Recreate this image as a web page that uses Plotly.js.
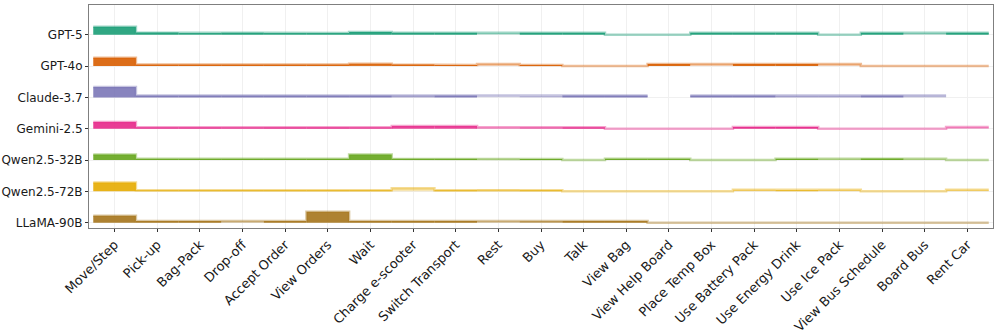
<!DOCTYPE html>
<html>
<head>
<meta charset="utf-8">
<script src="https://cdn.plot.ly/plotly-3.0.1.min.js"></script>
<style>
  html, body {margin: 0; padding: 0; background: #fff;}
  #chart {width: 997px; height: 336px;}
</style>
</head>
<body>
<div id="chart"></div>
<script>
let actions = ['Move/Step', 'Pick-up', 'Bag-Pack', 'Drop-off', 'Accept Order', 'View Orders', 'Wait',
    'Charge e-scooter', 'Switch Transport', 'Rest', 'Buy', 'Talk', 'View Bag', 'View Help Board',
    'Place Temp Box', 'Use Battery Pack', 'Use Energy Drink', 'Use Ice Pack', 'View Bus Schedule',
    'Board Bus', 'Rent Car'];

// top row first
let models = ['GPT-5', 'GPT-4o', 'Claude-3.7', 'Gemini-2.5', 'Qwen2.5-32B', 'Qwen2.5-72B', 'LLaMA-90B'];
let model_colors = ['#1b9e77', '#d95f02', '#7570b3', '#e7298a', '#66a61e', '#e6ab02', '#a6761d'];

// share of steps per action (%), null = action not available
let share_gpt5   = [20, 5.5, 4.5, 5, 4.5, 4.5, 7, 5, 5, 4.5, 5, 5, 0, 0, 5, 5, 5, 0, 5, 4.5, 5];
let share_gpt4o  = [21, 4, 4, 4, 4, 4, 6, 4, 2.5, 5, 2.5, 0, 0, 5, 5, 5, 5, 5, 0, 0, 0];
let share_claude = [26, 4.5, 4.5, 4.5, 4.5, 4.5, 4.5, 4.5, 4.5, 4, 3.5, 4.5, 4.5, null, 4.5, 4.5, 4, 4, 4.5, 4.5, null];
let share_gemini = [17, 3.5, 3.5, 3.5, 3.5, 3.5, 3.5, 7, 7, 3.5, 3.5, 3.5, 0, 0, 0, 4, 4, 0, 0, 0, 4];
let share_qwen32 = [14, 3, 3, 3, 3, 3, 14, 3, 3, 3.5, 2.5, 0, 3, 3, 0, 0, 3, 3, 4, 3, 0];
let share_qwen72 = [22, 3, 3, 3, 3, 3, 3, 8, 3, 4, 3, 0, 0, 0, 0, 4, 3, 4, 0, 0, 4];
let share_llama  = [17, 4, 4, 4, 4, 27, 4, 4, 4, 4, 4, 4, 4, 0, 0, 0, 0, 0, 0, 0, 0];

// success rate per action (drives the fill opacity)
let rate_gpt5   = [0.95, 0.95, 0.9, 0.95, 0.9, 0.9, 0.95, 0.95, 0.95, 0.2, 0.95, 0.95, 0, 0, 0.95, 0.95, 0.95, 0, 0.95, 0.25, 0.95];
let rate_gpt4o  = [0.95, 0.95, 0.95, 0.95, 0.95, 0.95, 0.9, 0.95, 0.95, 0.2, 0.95, 0, 0, 0.95, 0.2, 0.95, 0.95, 0.2, 0, 0, 0];
let rate_claude = [0.9, 0.9, 0.9, 0.9, 0.9, 0.9, 0.9, 0.5, 0.9, 0.05, 0.3, 0.9, 0.9, null, 0.9, 0.9, 0.5, 0.5, 0.9, 0.25, null];
let rate_gemini = [0.95, 0.95, 0.95, 0.9, 0.95, 0.95, 0.9, 0.9, 0.9, 0.35, 0.6, 0.95, 0, 0, 0, 0.95, 0.95, 0, 0, 0, 0.3];
let rate_qwen32 = [0.95, 0.95, 0.95, 0.95, 0.95, 0.95, 0.95, 0.95, 0.95, 0.25, 0.95, 0, 0.95, 0.95, 0, 0, 0.95, 0.25, 0.95, 0.25, 0];
let rate_qwen72 = [0.95, 0.95, 0.95, 0.95, 0.95, 0.95, 0.95, 0.25, 0.95, 0.45, 0.95, 0, 0, 0, 0, 0.35, 0.95, 0.35, 0, 0, 0.3];
let rate_llama  = [0.95, 0.95, 0.95, 0.3, 0.95, 0.95, 0.95, 0.95, 0.95, 0.3, 0.6, 0.95, 0.95, 0, 0, 0, 0, 0, 0, 0, 0];

let all_share = [share_gpt5, share_gpt4o, share_claude, share_gemini, share_qwen32, share_qwen72, share_llama];
let all_rate = [rate_gpt5, rate_gpt4o, rate_claude, rate_gemini, rate_qwen32, rate_qwen72, rate_llama];

let scale = 0.0128;   // ridge height per % share (row spacing = 1)

function rgba(hex, a) {
    let r = parseInt(hex.slice(1, 3), 16);
    let g = parseInt(hex.slice(3, 5), 16);
    let b = parseInt(hex.slice(5, 7), 16);
    return 'rgba(' + r + ',' + g + ',' + b + ',' + a + ')';
}

let idx = actions.map((a, i) => i);
let traces = [];

models.forEach((m, k) => {
    let offset = models.length - 1 - k;
    let share = all_share[k];
    let rate = all_rate[k];
    let col = model_colors[k];

    traces.push({
        type: 'bar',
        x: idx,
        y: share.map(v => v === null ? null : v * scale),
        base: offset,
        width: 1,
        marker: {
            color: rate.map(r => rgba(col, r === null ? 0 : (0.1 + 0.85 * r).toFixed(2))),
            line: {width: 0}
        },
        name: m,
        hoverinfo: 'skip'
    });

    // upper outline of the ridge
    let lx = [], ly = [];
    share.forEach((v, i) => {
        if (v === null) {
            lx.push(i); ly.push(null);
        } else {
            lx.push(i - 0.5, i + 0.5);
            ly.push(offset + v * scale, offset + v * scale);
        }
    });
    traces.push({
        type: 'scatter',
        mode: 'lines',
        x: lx,
        y: ly,
        line: {color: rgba(col, 0.42), width: 2.5},
        connectgaps: false,
        hoverinfo: 'skip'
    });
});

let layout = {
    width: 997,
    height: 336,
    margin: {l: 89, r: 4, t: 5, b: 108},
    paper_bgcolor: '#ffffff',
    plot_bgcolor: '#ffffff',
    showlegend: false,
    barmode: 'overlay',
    font: {family: 'DejaVu Sans, sans-serif', size: 13, color: '#1a1a1a'},
    xaxis: {
        range: [-0.6, 20.6],
        tickmode: 'array',
        tickvals: idx,
        ticktext: actions,
        tickangle: -45,
        ticks: 'outside',
        ticklen: 3,
        tickcolor: '#333333',
        showgrid: true,
        gridcolor: '#f0f0f0',
        zeroline: false,
        showline: true,
        linecolor: '#7f7f7f',
        linewidth: 1,
        mirror: true,
        tickfont: {size: 13, color: '#1a1a1a'}
    },
    yaxis: {
        range: [-0.17, 6.95],
        tickmode: 'array',
        tickvals: models.map((m, k) => models.length - 1 - k),
        ticktext: models,
        ticks: 'outside',
        ticklen: 3,
        tickcolor: '#333333',
        showgrid: true,
        gridcolor: '#f0f0f0',
        zeroline: false,
        showline: true,
        linecolor: '#7f7f7f',
        linewidth: 1,
        mirror: true,
        tickfont: {size: 12, color: '#1a1a1a'}
    }
};

let config = {displayModeBar: false, staticPlot: true};

Plotly.newPlot('chart', traces, layout, config);
</script>
</body>
</html>
